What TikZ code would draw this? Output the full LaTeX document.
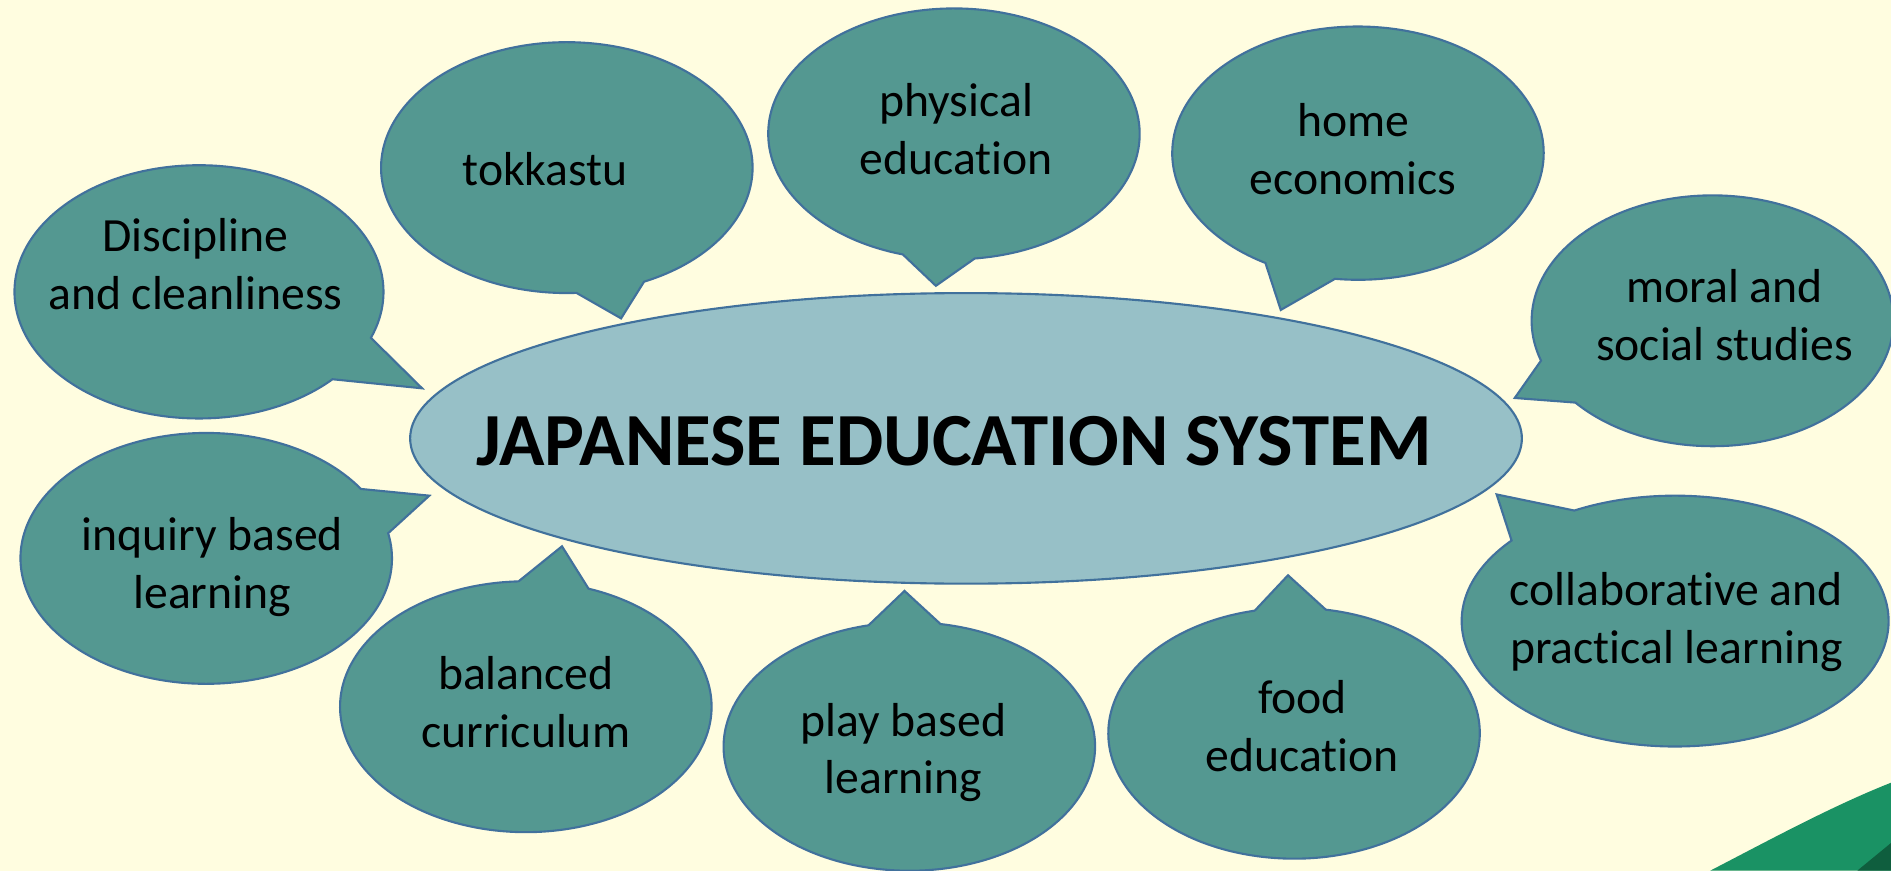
\documentclass[tikz,border=0pt]{standalone}
\usepackage{fontspec}
\setmainfont{Carlito}[Ligatures={NoCommon}]
\usetikzlibrary{shapes.geometric,calc}
\definecolor{bg}{RGB}{255,253,224}
\definecolor{teal1}{RGB}{84,152,145}
\definecolor{edge1}{RGB}{65,113,156}
\definecolor{center1}{RGB}{151,192,199}
\definecolor{green1}{RGB}{26,146,100}
\definecolor{green2}{RGB}{15,94,62}
\tikzset{
  bubble/.style={fill=teal1,draw=edge1,line width=1pt,line join=miter},
  btext/.style={inner sep=0pt,align=center,font=\fontsize{22.5}{27.3}\selectfont,text=black},
  hub/.style={ellipse,fill=center1,draw=edge1,line width=1pt,inner sep=0pt,minimum width=18.44cm,minimum height=4.82cm},
  hubtext/.style={inner sep=0pt,font=\fontsize{35.4}{40}\selectfont\bfseries,text=black}
}
\begin{document}
\begin{tikzpicture}[x=0.02cm,y=0.02cm,yscale=-1]
\useasboundingbox (0,0) rectangle (1568,722);
\clip (0,0) rectangle (1568,722);
\fill[bg] (0,0) rectangle (1568,722);
% green swoosh
\fill[green1] (1418,722) .. controls (1470,695) and (1520,668) .. (1568,649) -- (1568,722) -- cycle;
\fill[green2] (1540,722) -- (1568,699) -- (1568,722) -- cycle;
% central ellipse
\node[hub] (hub) at (801,363.5) {};
\node[hubtext] (hubt) at (791,366) {JAPANESE EDUCATION SYSTEM};
% callouts
\foreach \cx/\cy/\rx/\ry/\ax/\ay/\tx/\ty/\bx/\by/\px/\py/\nm/\txt in {
 165/242/153/105/307/280/350/322/275/314/162/219/disc/{Discipline\\and cleanliness},
 470/139/154/104/478/243/515/264/535/235/452/140/tokk/{tokkastu},
 791/111/154/104/749/210/776/237/808/213/793/107/phys/{physical\\education},
 1126/127/154/105/1051/216/1062/257/1107/231/1122/124/home/{home\\economics},
 1420/266/150/104/1278/299/1256/330/1306/334/1430/261/moral/{moral and\\social studies},
 1389/515/177/104/1306/424/1241/410/1253/448/1390/516/coll/{collaborative and\\practical learning},
 1073/608/154/104/1040/505/1068/477/1100/503/1080/602/food/{food\\education},
 754/619/154/103/720/518/750/490/780/517/749/624/play/{play based\\learning},
 436/586/154/104/430/483/466/453/487/490/436/582/bal/{balanced\\curriculum},
 171/463/154/104/298/406/356/411/323/442/176/470/inq/{inquiry based\\learning}}
{
  \pgfmathsetmacro\ta{atan2((\ay-\cy)/\ry,(\ax-\cx)/\rx)}
  \pgfmathsetmacro\tb{atan2((\by-\cy)/\ry,(\bx-\cx)/\rx)}
  \pgfmathsetmacro\dd{mod(\ta-\tb+720,360)}
  \pgfmathsetmacro\te{\dd<180 ? (\tb+\dd-360) : (\tb+\dd)}
  \pgfmathsetmacro\pax{\cx+\rx*cos(\ta)}
  \pgfmathsetmacro\pay{\cy+\ry*sin(\ta)}
  \pgfmathsetmacro\pbx{\cx+\rx*cos(\tb)}
  \pgfmathsetmacro\pby{\cy+\ry*sin(\tb)}
  \path[bubble] (\pax,\pay) coordinate (\nm-a)
    -- (\tx,\ty) coordinate (\nm-tip)
    -- (\pbx,\pby)
    arc[start angle=\tb, end angle=\te, x radius=\rx, y radius=\ry] -- cycle;
  \node[btext] (\nm) at (\px,\py) {\txt};
}
\end{tikzpicture}
\end{document}
